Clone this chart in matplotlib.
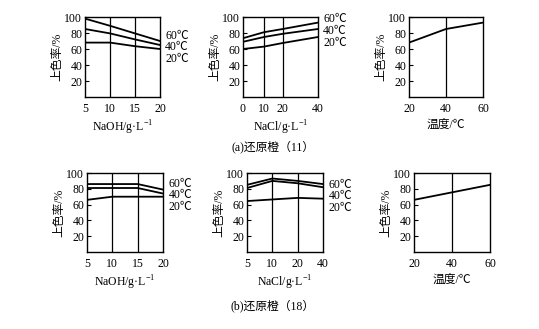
import matplotlib
matplotlib.use("Agg")
import matplotlib.pyplot as plt

plt.rcParams['font.family'] = ['Liberation Serif', 'Noto Sans CJK SC', 'DejaVu Sans']
plt.rcParams['font.size'] = 8.5
plt.rcParams['mathtext.fontset'] = 'custom'
plt.rcParams['mathtext.rm'] = 'Liberation Serif'

temps = ["60℃", "40℃", "20℃"]

# (a) 还原橙(11)
naoh_a = [5, 10, 15, 20]
naoh_a_60 = [98, 89, 79.5, 70]
naoh_a_40 = [85, 79.5, 72, 65]
naoh_a_20 = [68, 68, 63.5, 60]

nacl_a = [0, 10, 20, 40]
nacl_a_60 = [73.5, 81, 85, 93]
nacl_a_40 = [69, 75, 79, 85]
nacl_a_20 = [60, 63, 67.5, 75]

temp_a = [20, 40, 60]
temp_a_rate = [68, 85, 93]

# (b) 还原橙(18)
naoh_b = [5, 10, 15, 20]
naoh_b_60 = [86, 86, 86, 79]
naoh_b_40 = [81, 81, 81, 74]
naoh_b_20 = [66, 70, 70, 70]

nacl_b = [5, 10, 20, 40]
nacl_b_60 = [85, 93, 90, 86]
nacl_b_40 = [81, 90, 87, 82]
nacl_b_20 = [64.5, 66.5, 68.5, 67.5]

temp_b = [20, 40, 60]
temp_b_rate = [66, 75.5, 85]

W, H = 539, 329
fig = plt.figure(figsize=(W / 100, H / 100), dpi=100, facecolor="white")


def make_ax(x0, x1, y0, y1):
  return fig.add_axes([x0 / W, 1 - y1 / H, (x1 - x0) / W, (y1 - y0) / H])


def style(ax, xlabel):
  ax.set_ylim(0, 100)
  ax.set_yticks([20, 40, 60, 80, 100])
  ax.tick_params(axis="y", direction="in", length=3, width=0.8, pad=2)
  ax.tick_params(axis="x", length=0, pad=4)
  for s in ax.spines.values():
    s.set_linewidth(1.0)
  ax.set_ylabel("上色率/%", labelpad=1)
  ax.set_xlabel(xlabel, labelpad=3)


def temp_labels(ax, ys):
  for t, y in zip(temps, ys):
    ax.text(1.07, y, t, transform=ax.transAxes, va="center", ha="left")


lw = 1.3

# panel 1
ax = make_ax(85, 160, 17, 97)
for v in [naoh_a_60, naoh_a_40, naoh_a_20]:
  ax.plot(naoh_a, v, color="black", lw=lw)
for g in [10, 15]:
  ax.axvline(g, color="black", lw=0.9)
ax.set_xlim(5, 20)
ax.set_xticks(naoh_a)
style(ax, "NaOH/g·L$^{-1}$")
temp_labels(ax, [0.76, 0.62, 0.475])

# panel 2 (uneven x axis)
pos_a = {0: 0.0, 10: 0.28, 20: 0.53, 40: 1.0}
ax = make_ax(243, 318, 17, 97)
xa = [pos_a[v] for v in nacl_a]
for v in [nacl_a_60, nacl_a_40, nacl_a_20]:
  ax.plot(xa, v, color="black", lw=lw)
for g in [10, 20]:
  ax.axvline(pos_a[g], color="black", lw=0.9)
ax.set_xlim(0, 1)
ax.set_xticks(xa)
ax.set_xticklabels([str(v) for v in nacl_a])
style(ax, "NaCl/g·L$^{-1}$")
temp_labels(ax, [0.975, 0.825, 0.675])

# panel 3
ax = make_ax(409, 483, 17, 97)
ax.plot(temp_a, temp_a_rate, color="black", lw=lw)
ax.axvline(40, color="black", lw=0.9)
ax.set_xlim(20, 60)
ax.set_xticks(temp_a)
style(ax, "温度/℃")

# panel 4
ax = make_ax(87, 163, 173, 252)
for v in [naoh_b_60, naoh_b_40, naoh_b_20]:
  ax.plot(naoh_b, v, color="black", lw=lw)
for g in [10, 15]:
  ax.axvline(g, color="black", lw=0.9)
ax.set_xlim(5, 20)
ax.set_xticks(naoh_b)
style(ax, "NaOH/g·L$^{-1}$")
temp_labels(ax, [0.86, 0.725, 0.575])

# panel 5 (evenly spaced categories)
ax = make_ax(247, 323, 173, 252)
xb = list(range(len(nacl_b)))
for v in [nacl_b_60, nacl_b_40, nacl_b_20]:
  ax.plot(xb, v, color="black", lw=lw)
for g in [1, 2]:
  ax.axvline(g, color="black", lw=0.9)
ax.set_xlim(0, 3)
ax.set_xticks(xb)
ax.set_xticklabels([str(v) for v in nacl_b])
style(ax, "NaCl/g·L$^{-1}$")
temp_labels(ax, [0.85, 0.71, 0.56])

# panel 6
ax = make_ax(414, 490, 173, 252)
ax.plot(temp_b, temp_b_rate, color="black", lw=lw)
ax.axvline(40, color="black", lw=0.9)
ax.set_xlim(20, 60)
ax.set_xticks(temp_b)
style(ax, "温度/℃")

fig.text(273 / W, 1 - 147 / H, "(a)还原橙（11）", ha="center", va="center")
fig.text(273 / W, 1 - 306 / H, "(b)还原橙（18）", ha="center", va="center")

fig.savefig("out.png", dpi=100, facecolor="white")
